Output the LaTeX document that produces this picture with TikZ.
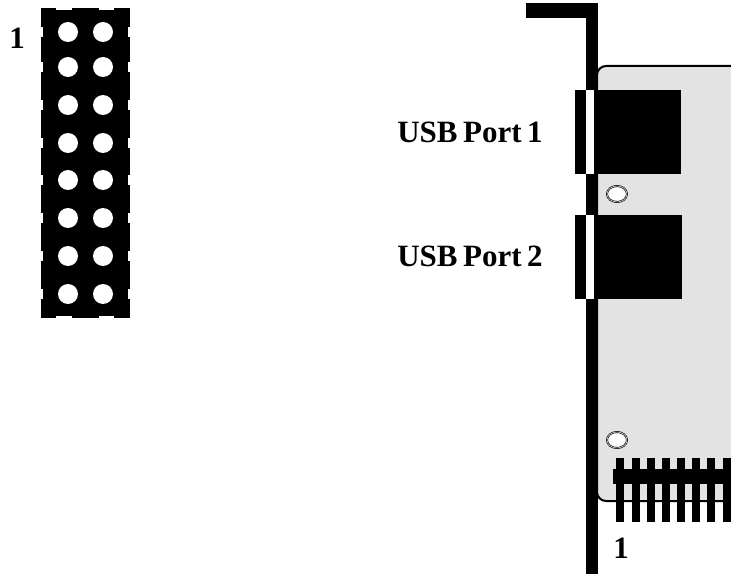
\documentclass[tikz,border=0pt]{standalone}
\usepackage{fontspec}
\setmainfont{Liberation Serif}
\newcommand{\labelfont}{\bfseries\fontsize{31}{31}\selectfont\spaceskip=5.5pt\relax}
\begin{document}
\begin{tikzpicture}[x=1pt,y=1pt,
    hole/.style={fill=white},
    notch/.style={fill=white},
    ring/.style={draw=black,fill=white,line width=0.7pt,double=white,double distance=0.5pt},
    metal/.style={fill=black},
    label/.style={font=\labelfont,inner sep=0pt}]
        \useasboundingbox (0,0) rectangle (731,574);
        % header, top view
        \fill[metal] (41,256) rectangle (130,566);
        \fill[hole] (68,542) circle [radius=10];
        \fill[hole] (103,542) circle [radius=10];
        \fill[hole] (68,507) circle [radius=10];
        \fill[hole] (103,507) circle [radius=10];
        \fill[hole] (68,469) circle [radius=10];
        \fill[hole] (103,469) circle [radius=10];
        \fill[hole] (68,431) circle [radius=10];
        \fill[hole] (103,431) circle [radius=10];
        \fill[hole] (68,394) circle [radius=10];
        \fill[hole] (103,394) circle [radius=10];
        \fill[hole] (68,356) circle [radius=10];
        \fill[hole] (103,356) circle [radius=10];
        \fill[hole] (68,318) circle [radius=10];
        \fill[hole] (103,318) circle [radius=10];
        \fill[hole] (68,280) circle [radius=10];
        \fill[hole] (103,280) circle [radius=10];
        \foreach \y in {542,507,469,431,394,356,318,280} {
            \fill[notch] (41,\y-5) rectangle (43,\y+5);
            \fill[notch] (128,\y-5) rectangle (130,\y+5);
        }
        \fill[notch] (56,564) rectangle (72,566);
        \fill[notch] (99,564) rectangle (114,566);
        \fill[notch] (56,256) rectangle (72,258);
        \fill[notch] (99,256) rectangle (114,258);
        \node[label] (headerone) at (17,536) {1};
        % board
        \draw[fill=gray!22,line width=2pt,rounded corners=9] (597,73) rectangle (745,508);
        % bracket
        \fill[metal] (526,556) rectangle (598,571);
        \fill[metal] (586,0) rectangle (598,571);
        % usb ports
        \fill[metal] (575,400) rectangle (681,484);
        \fill[white] (586,400) rectangle (594,484);
        \fill[metal] (575,275) rectangle (682,359);
        \fill[white] (586,275) rectangle (594,359);
        \node[label] (portone) at (470,442) {USB Port 1};
        \node[label] (porttwo) at (470,318) {USB Port 2};
        % mounting holes
        \draw[ring] (617,380) ellipse [x radius=10,y radius=8];
        \draw[ring] (617,134) ellipse [x radius=10,y radius=8];
        % pins on the board
        \fill[metal] (613,90) rectangle (731,105);
        \fill[metal] (616,52) rectangle (624,116);
        \fill[metal] (632,52) rectangle (640,116);
        \fill[metal] (647,52) rectangle (655,116);
        \fill[metal] (662,52) rectangle (670,116);
        \fill[metal] (677,52) rectangle (685,116);
        \fill[metal] (692,52) rectangle (700,116);
        \fill[metal] (707,52) rectangle (715,116);
        \fill[metal] (723,52) rectangle (731,116);
        \node[label] (boardone) at (621,26) {1};
    \end{tikzpicture}
\end{document}
